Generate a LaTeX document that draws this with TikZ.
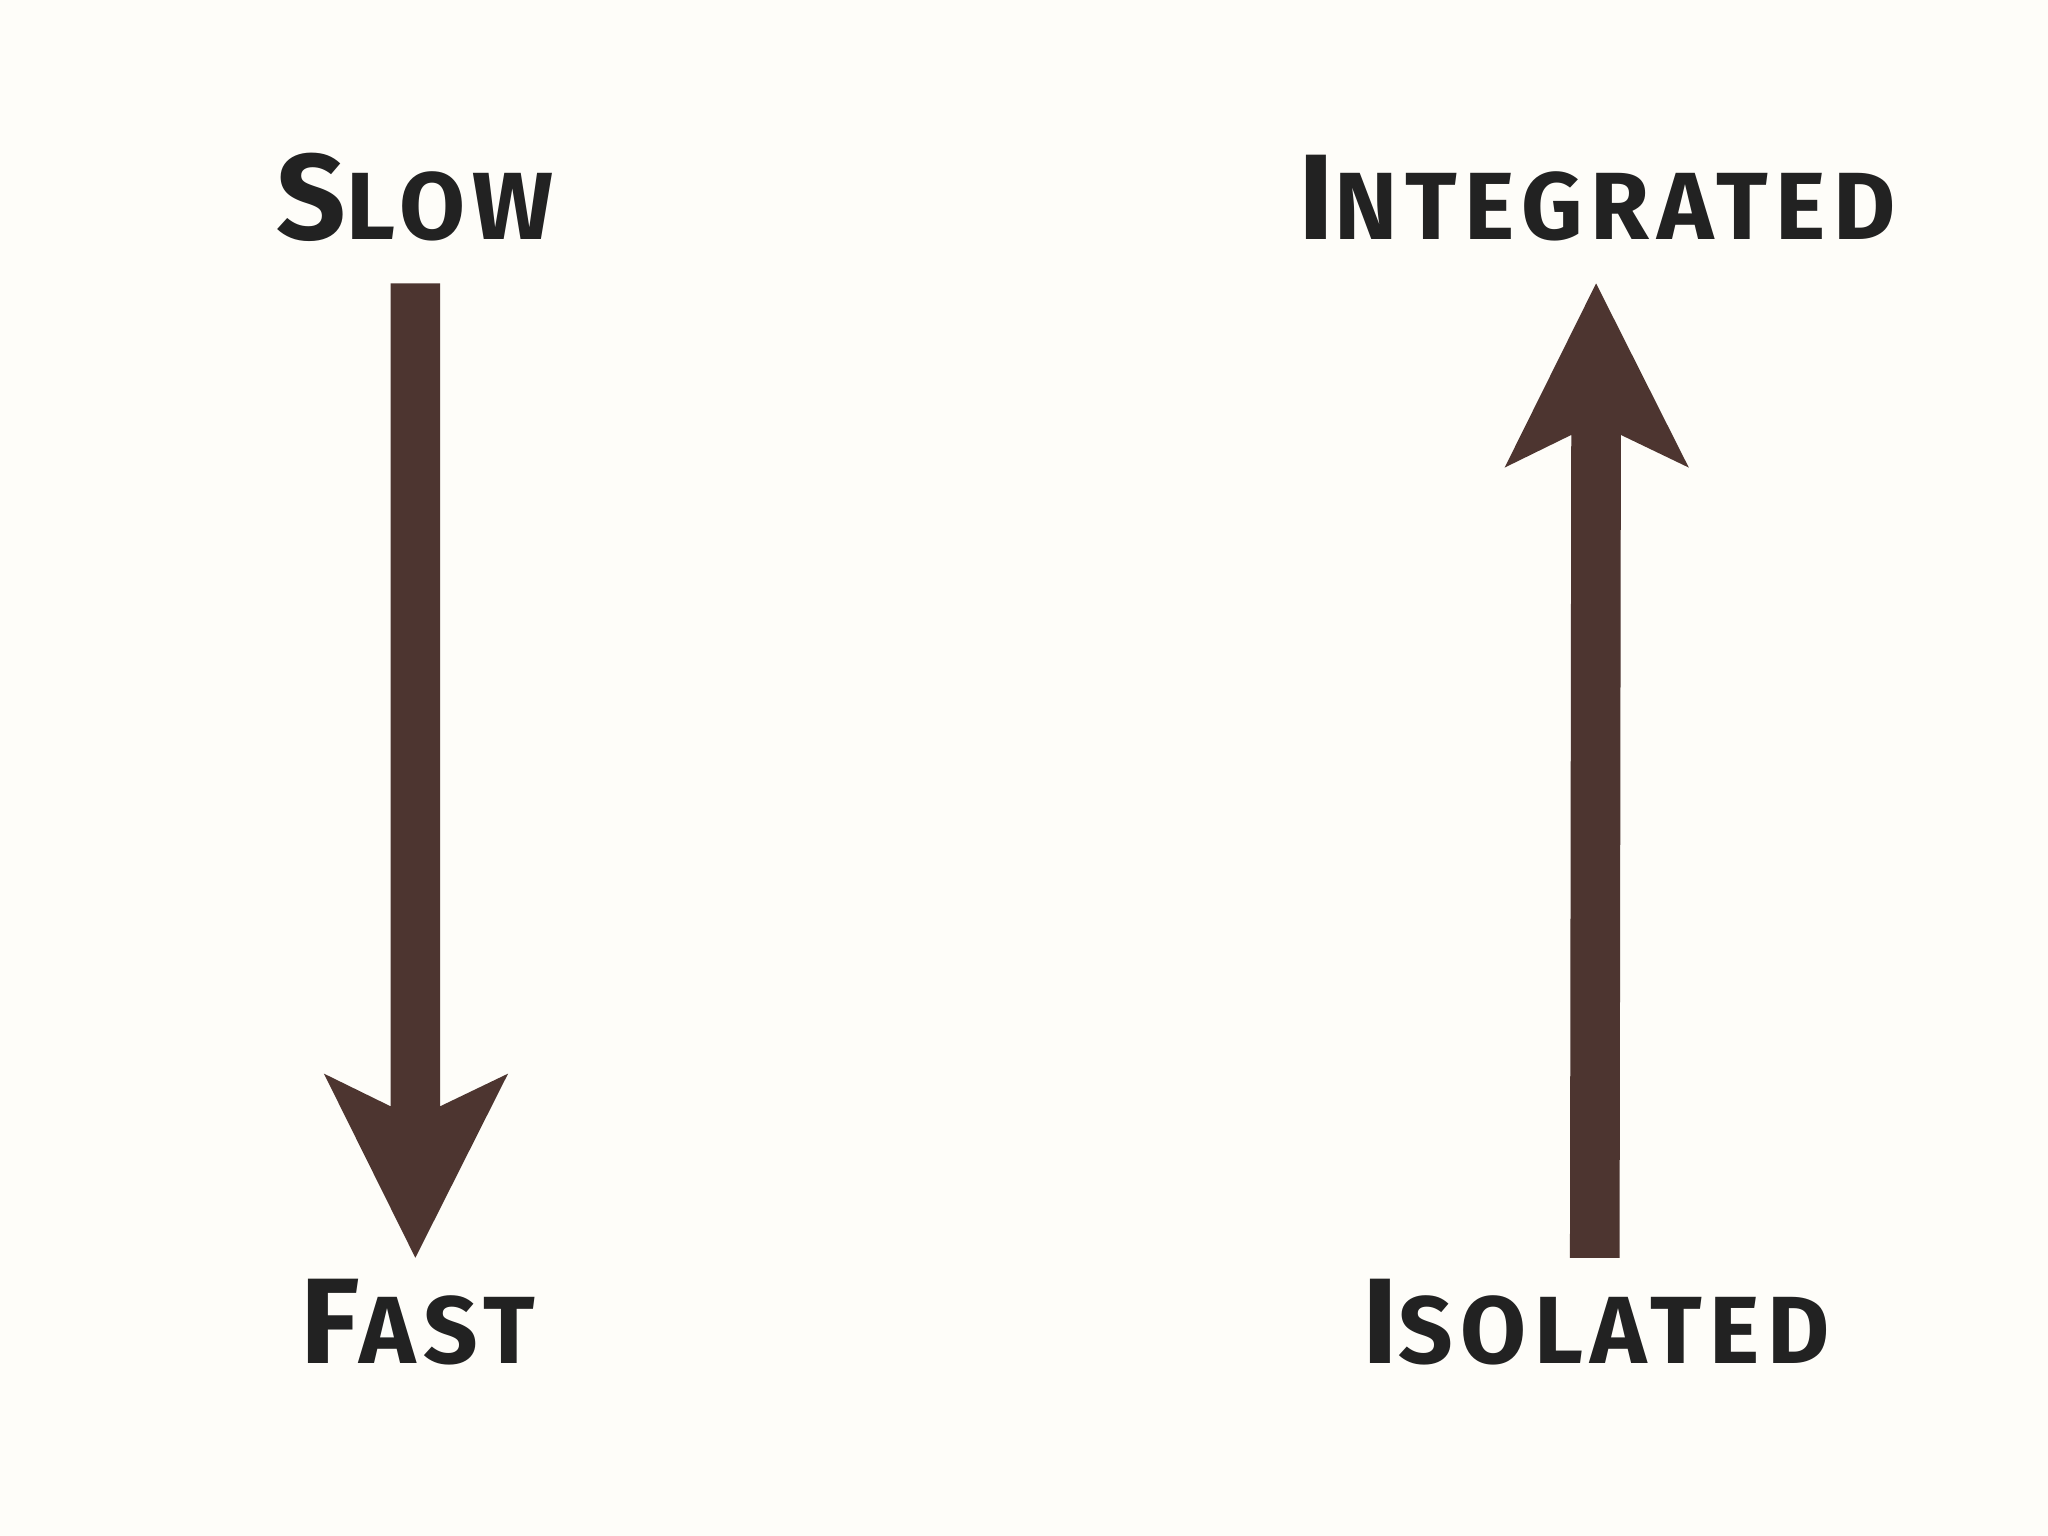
\documentclass[tikz,border=0pt]{standalone}
\usepackage{fontspec}
\setmainfont{Fira Sans}[UprightFont=* Bold, LetterSpace=8]
\definecolor{bg}{HTML}{FEFDF9}
\definecolor{arr}{HTML}{4D3530}
\definecolor{txt}{HTML}{222222}
\newcommand{\BigL}[1]{{\fontsize{26.5}{30}\selectfont #1}}
\newcommand{\SmL}[1]{{\fontsize{20.8}{24}\selectfont #1}}
\tikzset{lbl/.style={anchor=base, text=txt, inner sep=0pt}}
\begin{document}
\begin{tikzpicture}[x=0.01cm,y=-0.01cm]
\fill[bg] (0,0) rectangle (1568,1176);
\useasboundingbox (0,0) rectangle (1568,1176);
\node[lbl] (slow) at (318,183) {\BigL{S}\SmL{LOW}};
\node[lbl] (fast) at (320,1044) {\BigL{F}\SmL{AST}};
\node[lbl] (integ) at (1223,183) {\BigL{I}\SmL{NTEGRATED}};
\node[lbl] (isol) at (1222,1044) {\BigL{I}\SmL{SOLATED}};
\fill[arr] (299,217) -- (337,217) -- (337,847) -- (389,822) -- (318,963) -- (248,822) -- (299,847) -- cycle;
\fill[arr] (1202,963) -- (1240,963) -- (1241,333) -- (1293,358) -- (1222,217) -- (1152,358) -- (1203,333) -- cycle;
\end{tikzpicture}
\end{document}
